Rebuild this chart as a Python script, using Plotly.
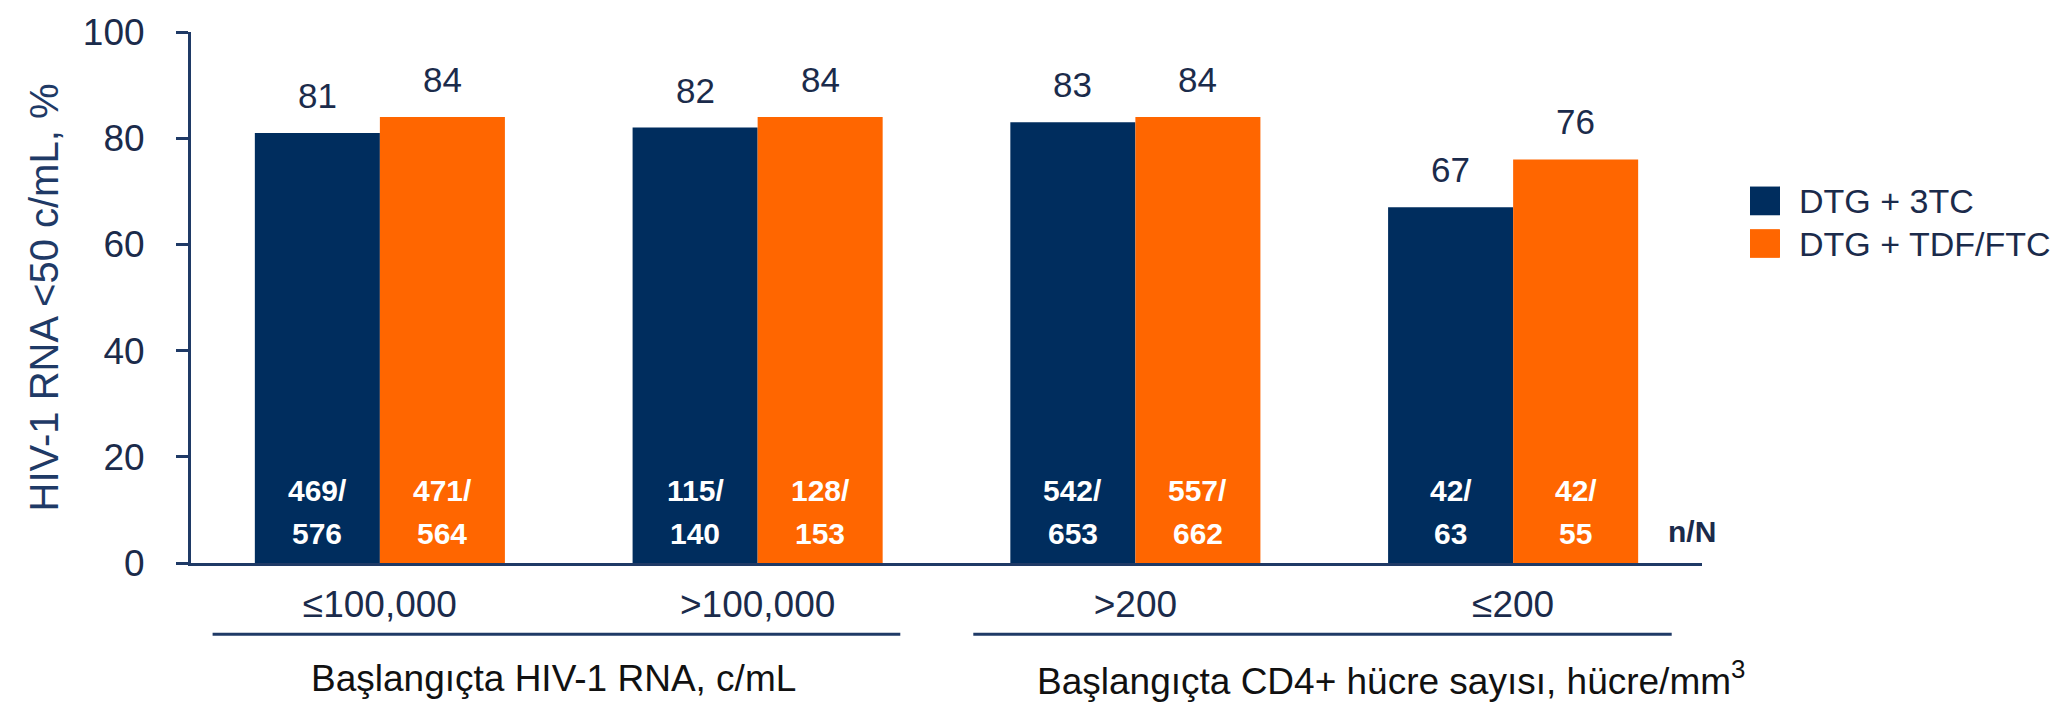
import plotly.graph_objects as go

# ---------------- data ----------------
categories = ["≤100,000", ">100,000", ">200", "≤200"]
series_names = ["DTG + 3TC", "DTG + TDF/FTC"]
dtg_3tc = [81, 82, 83, 67]
dtg_tdf_ftc = [84, 84, 84, 76]
dtg_3tc_n = [469, 115, 542, 42]
dtg_3tc_N = [576, 140, 653, 63]
dtg_tdf_ftc_n = [471, 128, 557, 42]
dtg_tdf_ftc_N = [564, 153, 662, 55]
group_titles = ["Başlangıçta HIV-1 RNA, c/mL",
                "Başlangıçta CD4+ hücre sayısı, hücre/mm<sup>3</sup>"]
y_ticks = [0, 20, 40, 60, 80, 100]
y_title = "HIV-1 RNA <50 c/mL, %"
nN_label = "n/N"

# ---------------- style ----------------
NAVY = "#002D5E"
ORANGE = "#FF6600"
AXIS = "#1F3A66"
TXT = "#1B2B4B"
FONT = "Liberation Sans, Arial, sans-serif"

W, H = 2066, 704
L, R, T, B = 191, 364, 27, 141
PW, PH = W - L - R, H - T - B
BARGAP = 0.338
OFF = (1 - BARGAP) / 4  # centre offset of each bar in a pair


def px(x):
    return (x - L) / PW


def py(y):
    return (H - B - y) / PH


fig = go.Figure()
series = [(series_names[0], dtg_3tc, dtg_3tc_n, dtg_3tc_N, NAVY, -OFF),
          (series_names[1], dtg_tdf_ftc, dtg_tdf_ftc_n, dtg_tdf_ftc_N, ORANGE, OFF)]

for name, vals, ns, Ns, col, off in series:
    fig.add_trace(go.Bar(x=categories, y=vals, name=name, marker=dict(color=col, line=dict(width=0)),
                         showlegend=False))

annotations = []
for name, vals, ns, Ns, col, off in series:
    for i, v in enumerate(vals):
        annotations.append(dict(x=i + off, y=v, xref="x", yref="y", text=str(v), showarrow=False,
                                yanchor="bottom", yshift=16,
                                font=dict(family=FONT, size=35, color=TXT)))
        annotations.append(dict(x=i + off, y=0, xref="x", yref="y", text=f"<b>{ns[i]}/</b>", showarrow=False,
                                yanchor="middle", yshift=73,
                                font=dict(family=FONT, size=30, color="white")))
        annotations.append(dict(x=i + off, y=0, xref="x", yref="y", text=f"<b>{Ns[i]}</b>", showarrow=False,
                                yanchor="middle", yshift=30,
                                font=dict(family=FONT, size=30, color="white")))

# n/N label
annotations.append(dict(x=px(1692), y=py(531), xref="paper", yref="paper", text=f"<b>{nN_label}</b>",
                        showarrow=False, xanchor="center", yanchor="middle",
                        font=dict(family=FONT, size=30, color=TXT)))

# group titles
for t, cx in zip(group_titles, [553, 1391]):
    annotations.append(dict(x=px(cx), y=py(680), xref="paper", yref="paper", text=t, showarrow=False,
                            xanchor="center", yanchor="middle",
                            font=dict(family=FONT, size=37, color="#111111")))

# legend (custom, large squares)
shapes = []
for k, (name, col) in enumerate(zip(series_names, [NAVY, ORANGE])):
    top = 183 + k * 43
    shapes.append(dict(type="rect", xref="paper", yref="paper",
                       x0=px(1750), x1=px(1780), y0=py(top + 29), y1=py(top),
                       fillcolor=col, line=dict(width=0)))
    annotations.append(dict(x=px(1797), y=py(top + 14.5), xref="paper", yref="paper", text=name,
                            showarrow=False, xanchor="left", yanchor="middle",
                            font=dict(family=FONT, size=34, color=TXT)))

# group bracket lines
for x0, x1 in [(212.6, 900.3), (973.3, 1671.7)]:
    shapes.append(dict(type="line", xref="paper", yref="paper", x0=px(x0), x1=px(x1),
                       y0=py(635), y1=py(635), line=dict(color=AXIS, width=3)))

fig.update_layout(
    width=W, height=H,
    margin=dict(l=L, r=R, t=T, b=B, pad=0),
    paper_bgcolor="white", plot_bgcolor="white",
    barmode="group", bargap=BARGAP, bargroupgap=0,
    annotations=annotations, shapes=shapes,
    font=dict(family=FONT, color=TXT),
)
fig.update_xaxes(
    type="category", range=[-0.5, 3.5], showline=True, linecolor=AXIS, linewidth=3,
    ticks="", showgrid=False, zeroline=False,
    tickfont=dict(family=FONT, size=37, color=TXT), ticklabelstandoff=7,
)
fig.update_yaxes(
    range=[0, 100], tickvals=y_ticks, showline=True, linecolor=AXIS, linewidth=3,
    ticks="outside", ticklen=12, tickwidth=3, tickcolor=AXIS, showgrid=False, zeroline=False,
    tickfont=dict(family=FONT, size=37, color=TXT), ticklabelstandoff=24,
    title=dict(text=y_title, font=dict(family=FONT, size=40, color="#1F3A66"), standoff=12),
)

fig.write_html("out.html")
